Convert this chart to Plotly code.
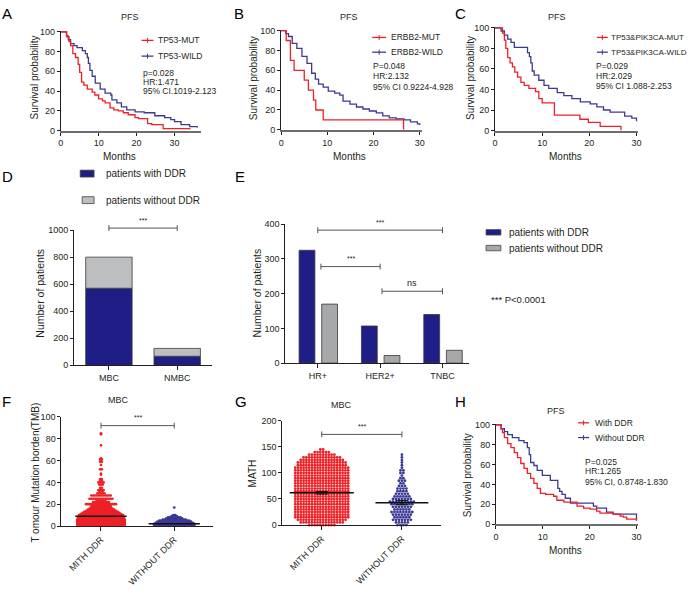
import numpy as np
import plotly.graph_objects as go

W, H = 690, 591
FONT = "Liberation Sans, Arial, Helvetica, sans-serif"
INK = "#231f20"
RED = "#EE2027"
BLUE = "#3B3A93"
NAVY = "#1F1E86"
GRAY_D = "#BDBEC0"
GRAY_E = "#A7A8AA"

# ---------------- data ----------------
# A  TP53
km_a_mut_t = [0, 1.6, 2.2, 2.6, 3.2, 3.9, 4.6, 5.0, 5.5, 6.1, 7.0, 8.3, 9.0, 10.0, 11.0, 11.7, 13.0, 14.0, 15.2, 16.5, 17.8, 19.6, 20.5, 22.9, 24.0, 27.0, 34.0]
km_a_mut_s = [100, 95, 90, 86, 78, 74, 67, 59, 49, 46, 42, 39, 36, 32, 30, 28, 23, 21, 20, 18, 16, 13, 12, 7, 6, 2, 1]
km_a_wild_t = [0, 1.5, 2.0, 2.6, 3.5, 4.3, 5.7, 6.5, 7.0, 7.3, 7.7, 8.3, 9.1, 10.4, 11.7, 13.2, 13.5, 14.8, 16.0, 17.4, 19.6, 22.0, 24.8, 27.4, 29.0, 30.0, 31.7, 34.0, 36.0]
km_a_wild_s = [100, 96, 92, 88, 86, 84, 81, 78, 74, 68, 61, 55, 48, 42, 38, 36, 31, 28, 24, 21, 19, 18, 15, 13, 11, 9, 6, 4, 3]
# B  ERBB2
km_b_mut_t = [0, 1.1, 2.0, 2.8, 5.0, 5.9, 7.0, 7.5, 9.1, 26.5]
km_b_mut_s = [100, 90, 70, 60, 50, 40, 30, 20, 10, 0]
km_b_wild_t = [0, 1.0, 1.6, 2.4, 3.4, 4.5, 5.6, 6.6, 7.4, 8.1, 9.1, 10.2, 11.6, 12.7, 13.4, 14.9, 16.3, 17.7, 19.1, 20.6, 22.0, 23.4, 24.9, 26.6, 28.0, 29.5, 30.0]
km_b_wild_s = [100, 97, 94, 87, 82, 74, 67, 57, 51, 46, 43, 39, 37, 35, 29, 26, 23, 21, 19, 17, 14, 12, 11, 10, 8, 6, 5]
# C  TP53&PIK3CA
km_c_mut_t = [0, 1.6, 2.0, 2.3, 2.7, 3.2, 3.7, 4.2, 4.8, 5.5, 6.2, 7.2, 8.6, 9.3, 10.0, 12.6, 18.0, 19.8, 22.3, 26.7]
km_c_mut_s = [100, 95, 88, 80, 71, 66, 62, 57, 52, 47, 44, 41, 38, 31, 27, 15, 11, 8, 4, 0]
km_c_wild_t = [0, 1.3, 2.0, 2.7, 3.4, 4.1, 6.9, 7.3, 7.6, 7.9, 8.3, 9.3, 10.4, 11.4, 13.2, 14.6, 16.3, 18.1, 20.2, 21.6, 23.0, 24.4, 27.5, 29.0, 30.0]
km_c_wild_s = [100, 97, 93, 89, 86, 81, 76, 72, 66, 58, 54, 49, 44, 41, 37, 34, 31, 28, 26, 23, 20, 18, 14, 12, 9]
# H  DDR
km_h_ddr_t = [0, 1.1, 1.4, 1.8, 2.5, 3.2, 3.9, 4.6, 5.3, 6.0, 6.7, 7.4, 8.1, 8.8, 9.5, 10.6, 12.3, 13.0, 14.5, 17.3, 18.7, 20.1, 21.5, 22.2, 25.0, 26.5, 27.2, 27.9, 30.0]
km_h_ddr_s = [100, 96, 92, 87, 81, 77, 72, 67, 61, 56, 51, 46, 41, 36, 31, 30, 28, 24, 22, 18, 16, 15, 13, 11, 10, 8, 7, 5, 3]
km_h_noddr_t = [0, 1.1, 1.8, 2.5, 3.5, 4.9, 6.0, 6.7, 7.1, 7.4, 8.1, 8.8, 9.9, 11.6, 13.2, 13.6, 14.1, 14.8, 15.9, 20.8, 21.5, 23.6, 25.0, 30.0]
km_h_noddr_s = [100, 96, 93, 90, 87, 84, 82, 77, 70, 62, 59, 54, 49, 44, 36, 33, 30, 26, 21, 18, 16, 12, 10, 5]

# D
ddr_cats = ["MBC", "NMBC"]
ddr_with = [570, 67]
ddr_without = [230, 58]
# E
sub_cats = ["HR+", "HER2+", "TNBC"]
sub_with = [325, 107, 140]
sub_without = [170, 22, 37]
# F  (TMB value levels and number of patients at each level)
swarm_cats = ["MITH DDR", "WITHOUT DDR"]
tmb_ddr_levels = [1, 2, 3, 4, 5, 6, 7, 8, 9, 10, 11, 12, 13, 14, 15, 16, 17, 18, 19, 20, 22, 23, 25, 28, 30, 32, 33, 35, 38, 40, 42, 43, 47, 48, 52, 56, 59, 61, 62, 74, 84, 85]
tmb_ddr_counts = [28, 28, 28, 28, 28, 28, 27, 27, 26, 26, 24, 22, 20, 18, 16, 14, 12, 12, 10, 18, 10, 6, 14, 12, 5, 3, 4, 2, 3, 4, 2, 2, 1, 1, 2, 1, 2, 2, 1, 1, 1, 1]
tmb_noddr_levels = [1, 2, 3, 4, 5, 6, 7, 8, 9, 10, 17]
tmb_noddr_counts = [24, 24, 22, 20, 18, 14, 10, 8, 4, 2, 1]
tmb_medians = [9, 2]
# G  (MATH)
math_ddr_levels = [0, 5, 10, 15, 20, 25, 30, 35, 40, 45, 50, 55, 60, 65, 70, 75, 80, 85, 90, 95, 100, 105, 110, 115, 120, 125, 130, 135, 140, 145]
math_ddr_counts = [10, 16, 18, 20, 20, 20, 20, 20, 20, 20, 20, 20, 20, 20, 20, 20, 20, 20, 20, 20, 20, 20, 20, 18, 18, 16, 14, 10, 6, 2]
math_noddr_levels = [0, 5, 10, 15, 20, 25, 30, 35, 40, 45, 50, 55, 60, 65, 70, 75, 80, 85, 90, 95, 100, 105, 110, 115, 120, 125, 130, 135]
math_noddr_counts = [4, 5, 7, 6, 7, 8, 6, 7, 8, 9, 7, 6, 5, 4, 4, 3, 2, 3, 2, 1, 2, 2, 1, 1, 1, 1, 1, 1]
math_means = [62, 43]
math_sems = [2.5, 4]

# ---------------- helpers ----------------
fig = go.Figure()
AX = {}
annotations = []
shapes = []


def mapdom(pa, pb, va, vb, lo, hi):
    s = (pb - pa) / (vb - va)
    return pa + (lo - va) * s, pa + (hi - va) * s


def axbase(**kw):
    d = dict(showgrid=False, zeroline=False, showline=True, linecolor=INK, linewidth=1,
             ticks="outside", ticklen=3, tickwidth=1, tickcolor=INK,
             tickfont=dict(size=9, color=INK, family=FONT), fixedrange=True)
    d.update(kw)
    return d


def add_axes(i, xmap, xr, ymap, yr, xkw=None, ykw=None):
    x0, x1 = mapdom(*xmap, *xr)
    y0, y1 = mapdom(*ymap, *yr)
    xd = [x0 / W, x1 / W]
    yd = [1 - y0 / H, 1 - y1 / H]
    AX[i] = dict(xd=xd, yd=yd, xr=xr, yr=yr)
    xn = "xaxis" if i == 1 else f"xaxis{i}"
    yn = "yaxis" if i == 1 else f"yaxis{i}"
    xa = axbase(domain=xd, range=xr, anchor=("y" if i == 1 else f"y{i}"))
    ya = axbase(domain=yd, range=yr, anchor=("x" if i == 1 else f"x{i}"))
    xa.update(xkw or {})
    ya.update(ykw or {})
    fig.update_layout({xn: xa, yn: ya})


def refs(i):
    return ("x", "y") if i == 1 else (f"x{i}", f"y{i}")


def px(i, v):
    a = AX[i]
    return a["xd"][0] + (v - a["xr"][0]) / (a["xr"][1] - a["xr"][0]) * (a["xd"][1] - a["xd"][0])


def py(i, v):
    a = AX[i]
    return a["yd"][0] + (v - a["yr"][0]) / (a["yr"][1] - a["yr"][0]) * (a["yd"][1] - a["yd"][0])


def text(xp, yp, s, size=9, anchor="left", color=INK, angle=0):
    annotations.append(dict(x=xp / W, y=1 - yp / H, xref="paper", yref="paper", text=s,
                            showarrow=False, xanchor=anchor, yanchor="middle", textangle=angle,
                            font=dict(size=size, family=FONT, color=color)))


def pline(x0, y0, x1, y1, color=INK, width=1):
    shapes.append(dict(type="line", xref="paper", yref="paper", x0=x0, y0=y0, x1=x1, y1=y1,
                       line=dict(color=color, width=width)))


def km_legend(x0p, x1p, yp, color, label, xt, size=8.5):
    pline(x0p / W, 1 - yp / H, x1p / W, 1 - yp / H, color, 1.3)
    xm = (x0p + x1p) / 2
    pline(xm / W, 1 - (yp - 2.5) / H, xm / W, 1 - (yp + 2.5) / H, color, 1)
    text(xt, yp, label, size=size)


def rect_legend(x0p, x1p, y0p, y1p, color, label, xt, size=10):
    shapes.append(dict(type="rect", xref="paper", yref="paper", x0=x0p / W, x1=x1p / W,
                       y0=1 - y0p / H, y1=1 - y1p / H, fillcolor=color, line=dict(color="#444", width=0.8)))
    text(xt, (y0p + y1p) / 2, label, size=size)


def bracket(i, xa, xb, yv, label, lsize=7, color="#555"):
    X0, X1, Y = px(i, xa), px(i, xb), py(i, yv)
    cap = 3 / H
    pline(X0, Y, X1, Y, color, 1)
    pline(X0, Y - cap, X0, Y + cap, color, 1)
    pline(X1, Y - cap, X1, Y + cap, color, 1)
    annotations.append(dict(x=(X0 + X1) / 2, y=Y + 8 / H, xref="paper", yref="paper", text=label,
                            showarrow=False, xanchor="center", yanchor="middle",
                            font=dict(size=lsize, family=FONT, color=INK)))


def swarm(levels, counts, center, step, halfw):
    xs, ys = [], []
    for v, n in zip(levels, counts):
        w = min(halfw, step * (n - 1) / 2)
        offs = np.linspace(-w, w, n) if n > 1 else np.array([0.0])
        xs.extend((center + offs).tolist())
        ys.extend([v] * n)
    return xs, ys


# ---------------- axes ----------------
km_x = dict(linecolor="#6d6d6d", linewidth=2, tickvals=[0, 10, 20, 30])
km_y = dict(tickvals=[0, 20, 40, 60, 80, 100])
rot_font = dict(size=9, color=INK, family=FONT)
add_axes(1, (58.3, 173.3, 0, 30), [0, 37], (127.7, 27.3, 0, 100), [0, 101], km_x, km_y)
add_axes(2, (281, 421, 0, 30), [0, 30.5], (127, 26, 0, 100), [0, 101], km_x, km_y)
add_axes(3, (497, 640, 0, 30), [0, 30.3], (127.7, 23.3, 0, 100), [0, 101], km_x, km_y)
add_axes(4, (107, 176, 0, 1), [-0.51, 1.51], (366.5, 229, 0, 1000), [0, 1000],
         dict(type="category", ticklen=4), dict(tickvals=[0, 200, 400, 600, 800, 1000]))
add_axes(5, (318, 444, 0, 2), [-0.52, 2.42], (364.3, 223, 0, 400), [0, 400],
         dict(type="category", ticklen=4), dict(tickvals=[0, 100, 200, 300, 400]))
add_axes(6, (99, 173, 0, 1), [-0.54, 1.53], (530, 419, 0, 100), [0, 100],
         dict(tickvals=[0, 1], ticktext=swarm_cats, tickangle=-45, ticklen=4, tickfont=rot_font),
         dict(tickvals=[0, 20, 40, 60, 80, 100]))
add_axes(7, (322, 403, 0, 1), [-0.49, 1.49], (529, 423, 0, 200), [0, 200],
         dict(tickvals=[0, 1], ticktext=swarm_cats, tickangle=-45, ticklen=4, tickfont=rot_font),
         dict(tickvals=[0, 50, 100, 150, 200]))
add_axes(8, (498, 640, 0, 30), [0, 30.3], (528, 427, 0, 100), [0, 101], km_x, km_y)

# ---------------- KM curves ----------------
def km(i, t, s, color):
    xr_, yr_ = refs(i)
    fig.add_trace(go.Scatter(x=t, y=s, mode="lines", line=dict(color=color, width=1.3, shape="hv"),
                             xaxis=xr_, yaxis=yr_, showlegend=False, hoverinfo="skip"))

km(1, km_a_wild_t, km_a_wild_s, BLUE)
km(1, km_a_mut_t, km_a_mut_s, RED)
km(2, km_b_wild_t, km_b_wild_s, BLUE)
km(2, km_b_mut_t, km_b_mut_s, RED)
km(3, km_c_wild_t, km_c_wild_s, BLUE)
km(3, km_c_mut_t, km_c_mut_s, RED)
km(8, km_h_noddr_t, km_h_noddr_s, BLUE)
km(8, km_h_ddr_t, km_h_ddr_s, RED)

# ---------------- D bars ----------------
fig.add_trace(go.Bar(x=ddr_cats, y=ddr_with, width=0.68, marker=dict(color=NAVY, line=dict(color="#3a3a3a", width=0.8)),
                     xaxis="x4", yaxis="y4", showlegend=False, hoverinfo="skip"))
fig.add_trace(go.Bar(x=ddr_cats, y=ddr_without, base=ddr_with, width=0.68,
                     marker=dict(color=GRAY_D, line=dict(color="#3a3a3a", width=0.8)),
                     xaxis="x4", yaxis="y4", showlegend=False, hoverinfo="skip"))
# ---------------- E bars ----------------
fig.add_trace(go.Bar(x=sub_cats, y=sub_with, width=0.254, offset=-0.30,
                     marker=dict(color=NAVY, line=dict(color="#3a3a3a", width=0.8)),
                     xaxis="x5", yaxis="y5", showlegend=False, hoverinfo="skip"))
fig.add_trace(go.Bar(x=sub_cats, y=sub_without, width=0.254, offset=0.063,
                     marker=dict(color=GRAY_E, line=dict(color="#3a3a3a", width=0.8)),
                     xaxis="x5", yaxis="y5", showlegend=False, hoverinfo="skip"))

# ---------------- F swarm ----------------
fx, fy = swarm(tmb_ddr_levels, tmb_ddr_counts, 0, 0.024, 0.34)
fig.add_trace(go.Scatter(x=fx, y=fy, mode="markers", marker=dict(size=2.7, color=RED),
                         xaxis="x6", yaxis="y6", showlegend=False, hoverinfo="skip", cliponaxis=False))
fx, fy = swarm(tmb_noddr_levels, tmb_noddr_counts, 1, 0.024, 0.34)
fig.add_trace(go.Scatter(x=fx, y=fy, mode="markers", marker=dict(size=2.7, color=BLUE),
                         xaxis="x6", yaxis="y6", showlegend=False, hoverinfo="skip", cliponaxis=False))
for k, m in enumerate(tmb_medians):
    fig.add_trace(go.Scatter(x=[k - 0.35, k + 0.35], y=[m, m], mode="lines", line=dict(color="#111", width=1.5),
                             xaxis="x6", yaxis="y6", showlegend=False, hoverinfo="skip"))

# ---------------- G swarm ----------------
gx, gy = swarm(math_ddr_levels, math_ddr_counts, 0, 0.035, 0.33)
fig.add_trace(go.Scatter(x=gx, y=gy, mode="markers", marker=dict(size=2.8, color=RED),
                         xaxis="x7", yaxis="y7", showlegend=False, hoverinfo="skip", cliponaxis=False))
gx, gy = swarm(math_noddr_levels, math_noddr_counts, 1, 0.037, 0.22)
fig.add_trace(go.Scatter(x=gx, y=gy, mode="markers", marker=dict(size=2.8, color=BLUE),
                         xaxis="x7", yaxis="y7", showlegend=False, hoverinfo="skip", cliponaxis=False))
for k, (m, hw) in enumerate(zip(math_means, [0.40, 0.33])):
    fig.add_trace(go.Scatter(x=[k - hw, k + hw], y=[m, m], mode="lines", line=dict(color="#111", width=1.5),
                             xaxis="x7", yaxis="y7", showlegend=False, hoverinfo="skip"))
fig.add_trace(go.Scatter(x=[0, 1], y=math_means, mode="markers", marker=dict(size=1, color="#111"),
                         error_y=dict(type="data", array=math_sems, color="#111", thickness=1, width=6),
                         xaxis="x7", yaxis="y7", showlegend=False, hoverinfo="skip"))

# ---------------- texts ----------------
for lab, x, y in [("A", 4, 9), ("B", 238, 9), ("C", 462, 9), ("D", 5, 174), ("E", 239, 174),
                  ("F", 4, 403), ("G", 240, 403), ("H", 462, 403)]:
    text(x, y, lab, size=15, anchor="center", color="#000")

for s, x, y in [("PFS", 128, 12), ("PFS", 350, 12), ("PFS", 560, 12), ("MBC", 117, 402),
                ("MBC", 342, 407), ("PFS", 559, 413)]:
    text(x, y, s, size=9, anchor="center")

for x, y in [(118, 154), (350, 154), (568, 154), (568, 555)]:
    text(x, y, "Months", size=10, anchor="center")

for x, y in [(32, 74), (253, 74), (473, 74), (470, 478)]:
    text(x, y, "Survival probability", size=10, anchor="center", angle=-90)
text(37, 293, "Number of patients", size=10.5, anchor="center", angle=-90)
text(257, 293, "Number of patients", size=10.5, anchor="center", angle=-90)
text(33, 476, "T omour Mutation borden(TMB)", size=10, anchor="center", angle=-90)
text(253, 476, "MATH", size=10, anchor="center", angle=-90)

# KM legends
km_legend(140, 152, 36, RED, "TP53-MUT", 155)
km_legend(140, 152, 52, BLUE, "TP53-WILD", 155)
km_legend(373, 387, 33, RED, "ERBB2-MUT", 390)
km_legend(373, 387, 48, BLUE, "ERBB2-WILD", 390)
km_legend(600, 611, 33, RED, "TP53&PIK3CA-MUT", 612, size=8)
km_legend(600, 611, 48, BLUE, "TP53&PIK3CA-WILD", 612, size=8)
km_legend(581, 592, 425, RED, "With DDR", 596)
km_legend(581, 592, 440, BLUE, "Without DDR", 596)

# stats
for x, ys, lines in [(139, (69, 78, 87), ("p=0.028", "HR:1.471", "95% CI.1019-2.123")),
                     (372, (62, 72.5, 83), ("P=0.048", "HR:2.132", "95% CI 0.9224-4.928")),
                     (597, (62, 72, 82), ("P=0.029", "HR:2.029", "95% CI 1.088-2.253")),
                     (586, (465, 474.5, 485), ("P=0.025", "HR:1.265", "95% CI, 0.8748-1.830"))]:
    for y, s in zip(ys, lines):
        text(x, y, s, size=8.5)

# bar legends
rect_legend(78, 92, 168, 175, NAVY, "patients with DDR", 102)
rect_legend(80, 92, 195, 202, GRAY_D, "patients without DDR", 102)
rect_legend(488, 503, 228.5, 234, NAVY, "patients with DDR", 509)
rect_legend(488, 503, 244.5, 250, GRAY_E, "patients without DDR", 509)
text(491, 300, "*** P<0.0001", size=9.5)

# significance brackets
bracket(4, 0, 1, 1015, "***")
bracket(5, 0, 2, 383, "***")
bracket(5, 0.05, 1, 278, "***")
bracket(5, 1.03, 2, 207, "ns", lsize=9)
bracket(6, 0, 1, 92, "***")
bracket(7, 0, 1, 174, "***")

fig.update_layout(width=W, height=H, margin=dict(l=0, r=0, t=0, b=0),
                  paper_bgcolor="white", plot_bgcolor="white", barmode="overlay",
                  font=dict(family=FONT, size=9, color=INK), showlegend=False,
                  hovermode=False, annotations=annotations, shapes=shapes)

fig.write_html("out.html", config={"displayModeBar": False, "staticPlot": True},
               post_script="document.body.style.margin='0px';document.body.style.overflow='hidden';")
